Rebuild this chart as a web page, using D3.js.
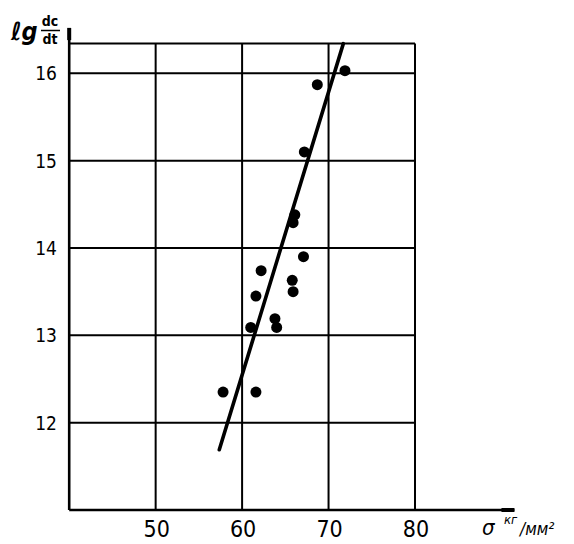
<!DOCTYPE html>
<html>
<head>
<meta charset="utf-8">
<script src="https://cdn.jsdelivr.net/npm/d3@7"></script>
<style>
  body { margin: 0; background: #fff; }
  svg text { font-family: "Liberation Sans Narrow", "DejaVu Sans Condensed", sans-serif; fill: #000; }
</style>
</head>
<body>
<svg id="chart" width="574" height="544"></svg>
<script>
// valeurs
const xTicks = [50, 60, 70, 80];
const yTicks = [12, 13, 14, 15, 16];
const sigma = [68.7, 71.9, 67.2, 66.1, 65.9, 67.1, 62.2, 65.8, 65.9, 61.6, 63.8, 64.0, 61.0, 57.8, 61.6];
const lgRate = [15.87, 16.03, 15.10, 14.38, 14.29, 13.90, 13.74, 13.63, 13.50, 13.45, 13.19, 13.09, 13.09, 12.35, 12.35];
// droite de regression (deux extremites)
const fitX = [57.36, 71.71];
const fitY = [11.69, 16.34];

const svg = d3.select("#chart");

const scaleX = d3.scaleLinear().domain([40, 80]).range([69.2, 415]);
const scaleY = d3.scaleLinear().domain([11, 16]).range([510, 73.3]);
const yTop = 16.34;

const grid = svg.append("g").attr("stroke", "#000").attr("stroke-width", 2);

// lignes horizontales
grid.selectAll(".hline")
    .data(yTicks.concat([yTop]))
    .enter()
    .append("line")
    .attr("x1", scaleX(40))
    .attr("x2", scaleX(80))
    .attr("y1", d => scaleY(d))
    .attr("y2", d => scaleY(d));

// lignes verticales
grid.selectAll(".vline")
    .data(xTicks)
    .enter()
    .append("line")
    .attr("x1", d => scaleX(d))
    .attr("x2", d => scaleX(d))
    .attr("y1", scaleY(11))
    .attr("y2", scaleY(yTop));

// axes
const axes = svg.append("g").attr("stroke", "#000").attr("stroke-width", 2.6);
axes.append("line")
    .attr("x1", scaleX(40)).attr("x2", scaleX(40))
    .attr("y1", scaleY(11)).attr("y2", scaleY(16.52));
axes.append("line")
    .attr("x1", scaleX(40)).attr("x2", scaleX(91.5))
    .attr("y1", scaleY(11)).attr("y2", scaleY(11));
// petites fleches
axes.append("line")
    .attr("x1", scaleX(40)).attr("x2", scaleX(40))
    .attr("y1", scaleY(16.52)).attr("y2", scaleY(16.38))
    .attr("stroke-width", 4);
axes.append("line")
    .attr("x1", scaleX(90)).attr("x2", scaleX(91.5))
    .attr("y1", scaleY(11)).attr("y2", scaleY(11))
    .attr("stroke-width", 4);

// etiquettes
svg.selectAll(".ylab")
    .data(yTicks)
    .enter()
    .append("text")
    .attr("x", 57)
    .attr("y", d => scaleY(d) + 7)
    .attr("text-anchor", "end")
    .attr("font-size", 19)
    .text(d => d);

svg.selectAll(".xlab")
    .data(xTicks)
    .enter()
    .append("text")
    .attr("x", d => scaleX(d) + 1)
    .attr("y", 537)
    .attr("text-anchor", "middle")
    .attr("font-size", 23)
    .text(d => d);

// titre axe y : lg dc/dt
svg.append("text").attr("x", 11).attr("y", 40)
    .attr("font-size", 25).attr("font-style", "italic").attr("font-weight", "bold")
    .text("ℓg");
svg.append("text").attr("x", 50).attr("y", 26)
    .attr("text-anchor", "middle").attr("font-size", 14).attr("font-weight", "bold")
    .text("dc");
svg.append("line").attr("x1", 41).attr("x2", 60).attr("y1", 30.5).attr("y2", 30.5)
    .attr("stroke", "#000").attr("stroke-width", 1.5);
svg.append("text").attr("x", 50).attr("y", 44)
    .attr("text-anchor", "middle").attr("font-size", 14).attr("font-weight", "bold")
    .text("dt");

// titre axe x : sigma kg/mm2
svg.append("text").attr("x", 482).attr("y", 535)
    .attr("font-size", 22).attr("font-style", "italic")
    .text("σ");
svg.append("text").attr("x", 504).attr("y", 524)
    .attr("font-size", 13).attr("font-style", "italic")
    .text("кг");
svg.append("text").attr("x", 520).attr("y", 535)
    .attr("font-size", 17).attr("font-style", "italic")
    .text("/мм²");

// droite
const valueLine = d3.line()
    .x(d => scaleX(d[0]))
    .y(d => scaleY(d[1]));

svg.append("path")
    .datum(d3.zip(fitX, fitY))
    .attr("d", valueLine)
    .attr("fill", "none")
    .attr("stroke", "#000")
    .attr("stroke-width", 3.6)
    .attr("stroke-linecap", "round");

// points
svg.selectAll(".pt")
    .data(d3.zip(sigma, lgRate))
    .enter()
    .append("circle")
    .attr("cx", d => scaleX(d[0]))
    .attr("cy", d => scaleY(d[1]))
    .attr("r", 5.5)
    .attr("fill", "#000");
</script>
</body>
</html>
